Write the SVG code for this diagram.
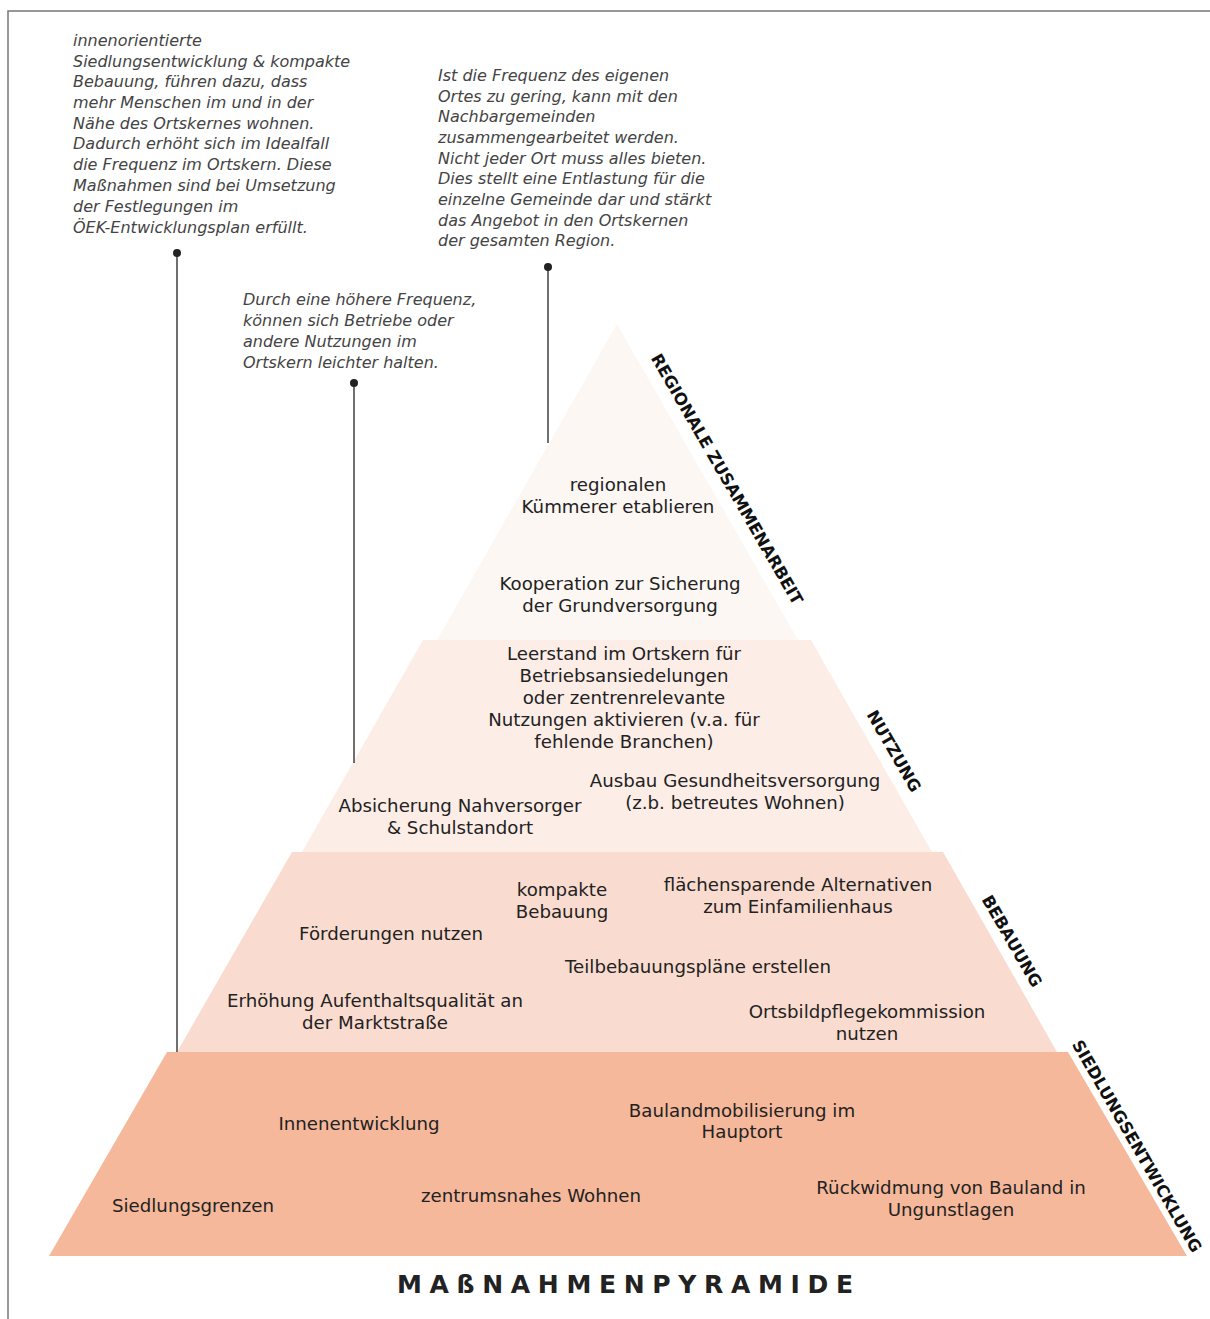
<svg xmlns="http://www.w3.org/2000/svg" width="1210" height="1319" viewBox="0 0 1210 1319">
<style>
.note{font-family:"DejaVu Sans","Verdana",sans-serif;font-style:italic;font-size:16px;fill:#444}
.lbl{font-family:"DejaVu Sans","Verdana",sans-serif;font-size:18.2px;fill:#222;text-anchor:middle}
.side{font-family:"DejaVu Sans","Verdana",sans-serif;font-size:16.5px;font-weight:bold;fill:#111;text-anchor:middle}
.title{font-family:"DejaVu Sans","Verdana",sans-serif;font-size:25px;font-weight:bold;fill:#222;text-anchor:middle}
.con{stroke:#333;stroke-width:1.4;fill:none}
.dot{fill:#222}
</style>
<rect width="1210" height="1319" fill="#fff"/>
<path d="M8 1319 V11 H1210" stroke="#777" stroke-width="1.5" fill="none"/>

<g id="tier1">
<polygon points="617,324 798,640 437,640" fill="#fcf7f3"/>
<text class="lbl" x="618" y="491">regionalen</text>
<text class="lbl" x="618" y="513">Kümmerer etablieren</text>
<text class="lbl" x="620" y="590">Kooperation zur Sicherung</text>
<text class="lbl" x="620" y="612">der Grundversorgung</text>
<text class="side" transform="translate(722,482) rotate(60)">REGIONALE ZUSAMMENARBEIT</text>
</g>

<g id="tier2">
<polygon points="423,640 811,640 932,852 302,852" fill="#fcede7"/>
<text class="lbl" x="624" y="660">Leerstand im Ortskern für</text>
<text class="lbl" x="624" y="682">Betriebsansiedelungen</text>
<text class="lbl" x="624" y="704">oder zentrenrelevante</text>
<text class="lbl" x="624" y="726">Nutzungen aktivieren (v.a. für</text>
<text class="lbl" x="624" y="748">fehlende Branchen)</text>
<text class="lbl" x="735" y="787">Ausbau Gesundheitsversorgung</text>
<text class="lbl" x="735" y="809">(z.b. betreutes Wohnen)</text>
<text class="lbl" x="460" y="812">Absicherung Nahversorger</text>
<text class="lbl" x="460" y="834">&amp; Schulstandort</text>
<text class="side" transform="translate(889,754) rotate(60)">NUTZUNG</text>
</g>

<g id="tier3">
<polygon points="292,852 943,852 1057,1052 177,1052" fill="#f9dccf"/>
<text class="lbl" x="562" y="896">kompakte</text>
<text class="lbl" x="562" y="918">Bebauung</text>
<text class="lbl" x="798" y="891">flächensparende Alternativen</text>
<text class="lbl" x="798" y="913">zum Einfamilienhaus</text>
<text class="lbl" x="391" y="940">Förderungen nutzen</text>
<text class="lbl" x="698" y="973">Teilbebauungspläne erstellen</text>
<text class="lbl" x="375" y="1007">Erhöhung Aufenthaltsqualität an</text>
<text class="lbl" x="375" y="1029">der Marktstraße</text>
<text class="lbl" x="867" y="1018">Ortsbildpflegekommission</text>
<text class="lbl" x="867" y="1040">nutzen</text>
<text class="side" transform="translate(1007,944) rotate(60)">BEBAUUNG</text>
</g>

<g id="tier4">
<polygon points="167,1052 1068,1052 1187,1256 49,1256" fill="#f6b89b"/>
<text class="lbl" x="359" y="1130">Innenentwicklung</text>
<text class="lbl" x="742" y="1117">Baulandmobilisierung im</text>
<text class="lbl" x="742" y="1138">Hauptort</text>
<text class="lbl" x="193" y="1212">Siedlungsgrenzen</text>
<text class="lbl" x="531" y="1202">zentrumsnahes Wohnen</text>
<text class="lbl" x="951" y="1194">Rückwidmung von Bauland in</text>
<text class="lbl" x="951" y="1216">Ungunstlagen</text>
<text class="side" transform="translate(1132,1149) rotate(60)">SIEDLUNGSENTWICKLUNG</text>
</g>

<g id="note1">
<text class="note" x="73" y="46">innenorientierte</text>
<text class="note" x="73" y="67">Siedlungsentwicklung &amp; kompakte</text>
<text class="note" x="73" y="87">Bebauung, führen dazu, dass</text>
<text class="note" x="73" y="108">mehr Menschen im und in der</text>
<text class="note" x="73" y="129">Nähe des Ortskernes wohnen.</text>
<text class="note" x="73" y="149">Dadurch erhöht sich im Idealfall</text>
<text class="note" x="73" y="170">die Frequenz im Ortskern. Diese</text>
<text class="note" x="73" y="191">Maßnahmen sind bei Umsetzung</text>
<text class="note" x="73" y="212">der Festlegungen im</text>
<text class="note" x="73" y="233">ÖEK-Entwicklungsplan erfüllt.</text>
</g>

<g id="note2">
<text class="note" x="438" y="81">Ist die Frequenz des eigenen</text>
<text class="note" x="438" y="102">Ortes zu gering, kann mit den</text>
<text class="note" x="438" y="122">Nachbargemeinden</text>
<text class="note" x="438" y="143">zusammengearbeitet werden.</text>
<text class="note" x="438" y="164">Nicht jeder Ort muss alles bieten.</text>
<text class="note" x="438" y="184">Dies stellt eine Entlastung für die</text>
<text class="note" x="438" y="205">einzelne Gemeinde dar und stärkt</text>
<text class="note" x="438" y="226">das Angebot in den Ortskernen</text>
<text class="note" x="438" y="246">der gesamten Region.</text>
</g>

<g id="note3">
<text class="note" x="243" y="305">Durch eine höhere Frequenz,</text>
<text class="note" x="243" y="326">können sich Betriebe oder</text>
<text class="note" x="243" y="347">andere Nutzungen im</text>
<text class="note" x="243" y="368">Ortskern leichter halten.</text>
</g>

<g id="connectors">
<line class="con" x1="177" y1="253" x2="177" y2="1052"/>
<circle class="dot" cx="177" cy="253" r="4"/>
<line class="con" x1="354" y1="383" x2="354" y2="763"/>
<circle class="dot" cx="354" cy="383" r="4"/>
<line class="con" x1="548" y1="267" x2="548" y2="443"/>
<circle class="dot" cx="548" cy="267" r="4"/>
</g>

<g id="title">
<text class="title" x="625" y="1293" textLength="456" lengthAdjust="spacing">MAßNAHMENPYRAMIDE</text>
</g>
</svg>
